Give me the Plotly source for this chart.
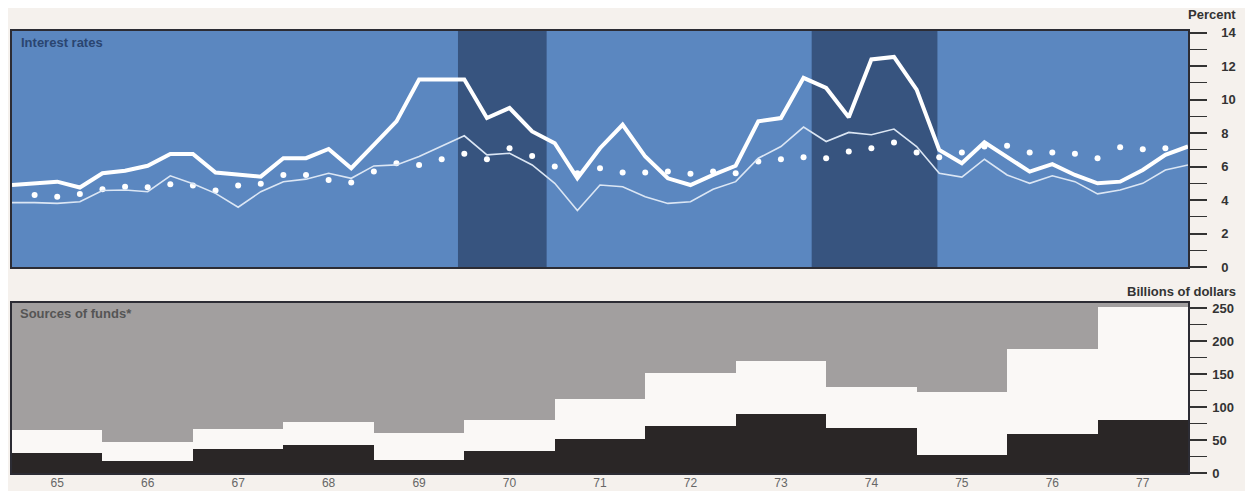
import plotly.graph_objects as go

# ---------------- data ----------------
year_labels = [str(y) for y in range(65, 78)]
year_centers = [1965.5 + i for i in range(13)]

# quarterly positions 1965.00 ... 1978.00
quarter_x = [1965 + k / 4 for k in range(53)]

rate_thick = [4.9, 5.0, 5.1, 4.75, 5.6, 5.75, 6.05, 6.75, 6.75, 5.65,
              5.5, 5.4, 6.5, 6.5, 7.05, 5.9, 7.3, 8.7, 11.2, 11.2,
              11.2, 8.9, 9.5, 8.1, 7.4, 5.3, 7.1, 8.5, 6.6, 5.3,
              4.9, 5.5, 6.05, 8.7, 8.9, 11.3, 10.7, 8.95, 12.4, 12.55,
              10.6, 7.0, 6.2, 7.45, 6.6, 5.7, 6.15, 5.5, 5.0, 5.1,
              5.8, 6.7, 7.2]

rate_thin = [3.85, 3.85, 3.8, 3.9, 4.57, 4.6, 4.5, 5.45, 4.97, 4.4,
             3.57, 4.5, 5.1, 5.25, 5.6, 5.3, 6.04, 6.1, 6.6, 7.24,
             7.84, 6.7, 6.8, 6.1, 5.0, 3.37, 4.9, 4.8, 4.2, 3.8,
             3.9, 4.65, 5.1, 6.5, 7.2, 8.36, 7.5, 8.04, 7.9, 8.24,
             7.2, 5.6, 5.37, 6.44, 5.5, 5.0, 5.45, 5.1, 4.37, 4.6,
             5.0, 5.8, 6.1]

dot_x = [1965 + k / 4 for k in range(1, 52)]
rate_dots = [4.3, 4.2, 4.37, 4.65, 4.8, 4.77, 4.95, 4.87, 4.57, 4.87,
             4.97, 5.5, 5.5, 5.2, 5.05, 5.7, 6.2, 6.1, 6.44, 6.76,
             6.44, 7.1, 6.64, 6.0, 5.6, 5.9, 5.65, 5.65, 5.7, 5.57,
             5.7, 5.6, 6.3, 6.44, 6.56, 6.5, 6.9, 7.1, 7.44, 6.84,
             6.56, 6.84, 7.2, 7.24, 6.84, 6.84, 6.76, 6.5, 7.16, 7.04,
             7.1]

recession_start = [1969.93, 1973.84]
recession_end = [1970.91, 1975.23]

funds_black = [30, 19, 37, 42, 20, 34, 52, 72, 90, 69, 28, 59, 81]
funds_total = [66, 47, 67, 77, 61, 81, 113, 152, 170, 130, 123, 189, 252]
funds_white = [t - b for t, b in zip(funds_total, funds_black)]

# ---------------- styles ----------------
PAGE = "#f5f1ed"
BLUE = "#5b87c0"
DARKBLUE = "#37547f"
GRAY = "#a29f9f"
BLACK = "#2a2626"
WHITE = "#faf8f6"
FRAME = "#2c2c34"
FONT = "Liberation Sans"

fig = go.Figure()

# top panel traces
fig.add_trace(go.Scatter(x=dot_x, y=rate_dots, mode="markers",
                         marker=dict(color="white", size=6),
                         xaxis="x", yaxis="y", showlegend=False))
fig.add_trace(go.Scatter(x=quarter_x, y=rate_thin, mode="lines",
                         line=dict(color="#dbe6f4", width=1.6),
                         xaxis="x", yaxis="y", showlegend=False))
fig.add_trace(go.Scatter(x=quarter_x, y=rate_thick, mode="lines",
                         line=dict(color="white", width=4),
                         xaxis="x", yaxis="y", showlegend=False))

# bottom panel bars
fig.add_trace(go.Bar(x=year_centers, y=funds_black, width=1,
                     marker=dict(color=BLACK, line=dict(width=0)),
                     xaxis="x2", yaxis="y2", showlegend=False))
fig.add_trace(go.Bar(x=year_centers, y=funds_white, width=1,
                     marker=dict(color=WHITE, line=dict(width=0)),
                     xaxis="x2", yaxis="y2", showlegend=False))

shapes = [
    dict(type="rect", xref="x2 domain", yref="y2 domain", x0=0, x1=1, y0=0, y1=1,
         fillcolor=GRAY, line=dict(width=0), layer="below"),
]
for s, e in zip(recession_start, recession_end):
    shapes.append(dict(type="rect", xref="x", yref="y domain", x0=s, x1=e, y0=0, y1=1,
                       fillcolor=DARKBLUE, line=dict(width=0), layer="below"))

top_dom = [0.466, 1.0]
bot_dom = [0.0, 0.385]

axis_common = dict(showgrid=False, zeroline=False, showline=True, mirror=True,
                   linecolor=FRAME, linewidth=1.5, automargin=False)
tickfont = dict(size=13, color="#333", weight="bold")

# page body adds an 8px offset; figure is sized / margined to compensate
fig.update_layout(
    width=1245, height=483,
    margin=dict(l=4, r=65, t=23, b=18),
    paper_bgcolor=PAGE, plot_bgcolor=BLUE,
    barmode="stack", bargap=0,
    font=dict(family=FONT, color="#444"),
    shapes=shapes,
    xaxis=dict(domain=[0, 1], anchor="y", range=[1965, 1978], showticklabels=False,
               ticks="", **axis_common),
    yaxis=dict(domain=top_dom, anchor="x", side="right", range=[0, 14.1],
               tickvals=list(range(0, 15, 2)), ticks="outside", ticklen=17,
               tickcolor="#333", tickwidth=1.5,
               minor=dict(dtick=1, ticks="outside", ticklen=17, tickcolor="#333", tickwidth=1.2),
               ticklabelstandoff=12,
               tickfont=tickfont, **axis_common),
    xaxis2=dict(domain=[0, 1], anchor="y2", range=[1965, 1978],
                tickvals=year_centers, ticktext=year_labels, ticks="",
                ticklabelstandoff=-2,
                tickfont=dict(size=12, color="#666"), **axis_common),
    yaxis2=dict(domain=bot_dom, anchor="x2", side="right", range=[0, 258],
                tickvals=list(range(0, 251, 50)), ticks="outside", ticklen=17,
                tickcolor="#333", tickwidth=1.5,
                minor=dict(dtick=25, ticks="outside", ticklen=17, tickcolor="#333", tickwidth=1.2),
                ticklabelstandoff=3,
                tickfont=tickfont, **axis_common),
    annotations=[
        dict(text="Interest rates", xref="paper", yref="paper", x=0.006, y=0.995,
             xanchor="left", yanchor="top", showarrow=False,
             font=dict(size=13, color="#2a4570", weight="bold")),
        dict(text="Sources of funds*", xref="paper", yref="paper", x=0.005, y=bot_dom[1] - 0.002,
             xanchor="left", yanchor="top", showarrow=False,
             font=dict(size=13, color="#555", weight="bold")),
        dict(text="Percent", xref="paper", yref="paper", x=1.0, y=1.0, xshift=50, yshift=7,
             xanchor="right", yanchor="bottom", showarrow=False,
             font=dict(size=13, color="#333", weight="bold")),
        dict(text="Billions of dollars", xref="paper", yref="paper", x=1.0, y=bot_dom[1],
             xshift=50, yshift=2, xanchor="right", yanchor="bottom", showarrow=False,
             font=dict(size=13, color="#333", weight="bold")),
    ],
)

fig.write_html("out.html")
